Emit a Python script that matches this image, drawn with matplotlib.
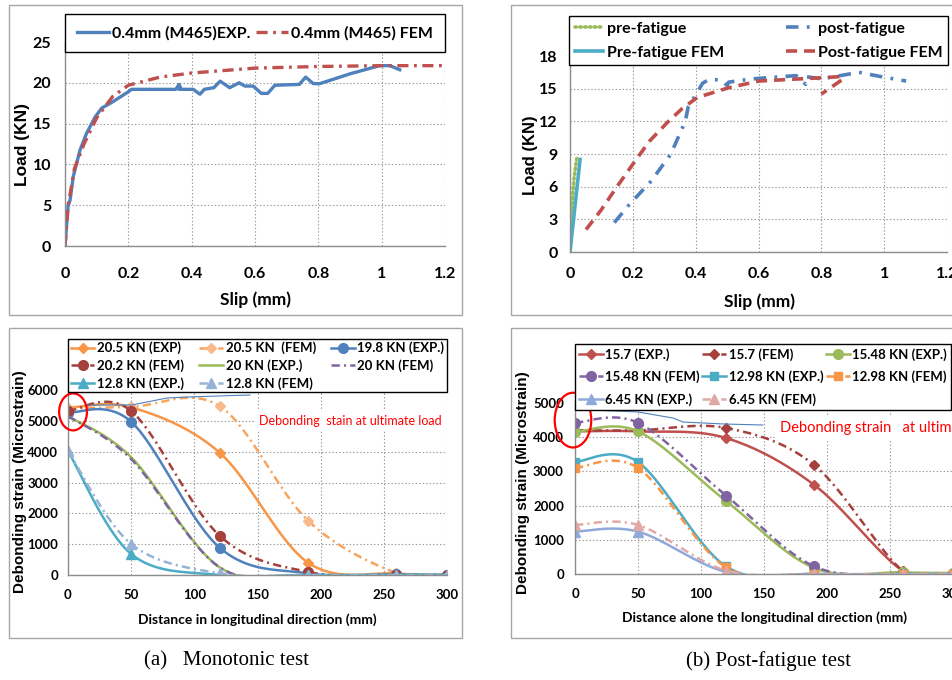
import numpy as np
import matplotlib
matplotlib.use("Agg")
import matplotlib.pyplot as plt
from matplotlib.patches import Ellipse, Rectangle
from matplotlib.lines import Line2D
from matplotlib.ticker import FuncFormatter

# ---------------- data ----------------
# (a) top: load-slip, monotonic
tl_exp_slip = [0, 0.01, 0.016, 0.026, 0.047, 0.068, 0.095, 0.116, 0.152, 0.2, 0.21, 0.35, 0.355, 0.36, 0.365,
               0.36, 0.405, 0.426, 0.44, 0.47, 0.49, 0.52, 0.55, 0.568, 0.594, 0.62, 0.64, 0.663, 0.74, 0.76,
               0.784, 0.805, 0.9, 0.994, 1.026, 1.057]
tl_exp_load = [0, 5, 5.6, 8.5, 11.7, 13.8, 15.8, 16.9, 17.7, 18.9, 19.2, 19.2, 19.5, 19.8, 19.4,
               19.2, 19.2, 18.6, 19.2, 19.4, 20.2, 19.4, 20.0, 19.6, 19.6, 18.7, 18.7, 19.7, 19.8, 20.7,
               19.9, 19.9, 21.1, 22.1, 22.1, 21.6]
tl_fem_slip = [0, 0.01, 0.03, 0.06, 0.1, 0.15, 0.2, 0.3, 0.4, 0.5, 0.6, 0.7, 0.8, 1.0, 1.2]
tl_fem_load = [0, 5, 9.5, 12.5, 15.7, 18.3, 19.7, 20.7, 21.2, 21.5, 21.8, 21.9, 22.0, 22.1, 22.1]

# (b) top: load-slip, post-fatigue
pre_slip = [0, 0.004, 0.008, 0.013, 0.017, 0.02, 0.022]
pre_load = [0, 2.5, 5.0, 6.8, 7.7, 8.3, 8.7]
pre_fem_slip = [0, 0.032]
pre_fem_load = [0, 8.5]
post_slip = [0.141, 0.187, 0.258, 0.321, 0.367, 0.376, 0.406, 0.422, 0.443, 0.48, 0.5, 0.505, 0.58, 0.72,
             0.75, 0.752, 0.8, 0.92, 1.0, 1.05, 1.07]
post_load = [2.7, 4.3, 6.5, 9.0, 12.0, 13.3, 14.7, 15.5, 15.85, 15.8, 15.3, 15.6, 15.9, 16.2,
             15.4, 16.1, 15.9, 16.5, 16.05, 15.8, 15.7]
post_fem_slip = [0.051, 0.099, 0.146, 0.197, 0.252, 0.31, 0.358, 0.406, 0.507, 0.602, 0.698, 0.8, 0.857, 0.87, 0.8]
post_fem_load = [2.06, 3.85, 5.85, 7.94, 10.15, 11.9, 13.2, 14.2, 15.1, 15.7, 15.85, 16.0, 16.1, 15.9, 14.5]

# (a) bottom: debonding strain, monotonic
bl_dist = [0, 50, 120, 190, 260, 300]
m205_exp = [5420, 5440, 3970, 400, 50, 0]
m205_fem = [5400, 5450, 5480, 1760, 60, 0]
m198_exp = [5270, 4970, 886, 54, 20, 0]
m202_fem = [5320, 5320, 1275, 100, 0, 0]
m20_exp = [5150, 3820, 250, 0, 0, 0]
m20_fem = [5150, 3760, 250, 0, 0, 0]
m128_exp = [4020, 680, 0, 0, 0, 0]
m128_fem = [4020, 1005, 54, 0, 0, 0]

# (b) bottom: debonding strain, post-fatigue
br_dist = [0, 50, 120, 190, 260, 300]
p157_exp = [4170, 4170, 3975, 2600, 97, 0]
p157_fem = [4200, 4200, 4270, 3180, 97, 0]
p1548_exp = [4150, 4170, 2130, 175, 50, 30]
p1548_fem = [4420, 4420, 2290, 220, 0, 0]
p1298_exp = [3275, 3275, 220, 0, 0, 0]
p1298_fem = [3100, 3100, 195, 0, 0, 0]
p645_exp = [1240, 1240, 58, 0, 0, 0]
p645_fem = [1434, 1434, 97, 0, 0, 0]

# annotation pointer lines (hand-drawn in the original)
bl_ptr_x = [15, 50.7, 78.4, 94.2, 144]
bl_ptr_y = [5514, 5514, 5741, 5773, 5838]
br_ptr_x = [12.7, 50, 77.8, 85.7, 118, 149]
br_ptr_y = [4795, 4737, 4561, 4444, 4386, 4357]

# ---------------- style ----------------
plt.rcParams['lines.scale_dashes'] = False
NARROW = ['Lato', 'DejaVu Sans']
ARIAL = ['Liberation Sans', 'DejaVu Sans']
SERIF = ['Liberation Serif', 'DejaVu Serif']

BLUE = '#4F81BD'; RED = '#C0504D'; GREEN = '#9BBB59'; PURPLE = '#8064A2'
AQUA = '#4BACC6'; ORANGE = '#F79646'
DASHDOT = (0, (6, 3, 1.5, 3))

W, H = 952, 680
fig = plt.figure(figsize=(W / 100, H / 100), dpi=100)


def ax_px(l, t, r, b):
    return fig.add_axes([l / W, 1 - b / H, (r - l) / W, (b - t) / H])


def fig_box(l, t, r, b):
    fig.patches.append(Rectangle((l / W, 1 - b / H), (r - l) / W, (b - t) / H, transform=fig.transFigure,
                                 fill=False, edgecolor='#A6A6A6', lw=1.0))


def T(px, py, s, **kw):
    fig.text(px / W, 1 - py / H, s, **kw)


def style_ax(ax, xlim, ylim, xticks, yticks, fs, xpad, ypad):
    ax.set_xlim(xlim)
    ax.set_ylim(ylim)
    ax.set_xticks(xticks)
    ax.set_yticks(yticks)
    ax.grid(True, color='#9A9A9A', lw=0.8, ls=(0, (1, 1.5)))
    ax.set_axisbelow(True)
    ax.patch.set_alpha(0)
    for s in ['top', 'right']:
        ax.spines[s].set_visible(False)
    for s in ['left', 'bottom']:
        ax.spines[s].set_color('#8C8C8C')
        ax.spines[s].set_linewidth(1.0)
    ax.tick_params(axis='x', length=0, pad=xpad, labelsize=fs)
    ax.tick_params(axis='y', length=0, pad=ypad, labelsize=fs)
    ax.xaxis.set_major_formatter(FuncFormatter(lambda v, p: '%g' % v))
    for lab in ax.get_xticklabels() + ax.get_yticklabels():
        lab.set_family(NARROW)
        lab.set_fontweight('bold')


def smooth(ax, x, y, n=40):
    P = ax.transData.transform(np.column_stack([x, y]))
    N = len(P)
    out = []
    t = np.linspace(0, 1, n)[:, None]
    for i in range(N - 1):
        p0 = P[i - 1] if i > 0 else P[i]
        p1 = P[i]
        p2 = P[i + 1]
        p3 = P[i + 2] if i + 2 < N else P[i + 1]
        c1 = p1 + (p2 - p0) / 6
        c2 = p2 - (p3 - p1) / 6
        seg = (1 - t) ** 3 * p1 + 3 * (1 - t) ** 2 * t * c1 + 3 * (1 - t) * t ** 2 * c2 + t ** 3 * p2
        out.append(seg if i == 0 else seg[1:])
    Q = ax.transData.inverted().transform(np.vstack(out))
    return Q[:, 0], Q[:, 1]


def legend(ax, handles, labels, l, t, r, ncol, fs, hl, lsp, bpad, htp=0.2):
    leg = ax.legend(handles, labels, loc='upper left', bbox_to_anchor=(l / W, 0, (r - l) / W, 1 - t / H),
                    bbox_transform=fig.transFigure, mode='expand', ncol=ncol, borderaxespad=0,
                    fancybox=False, framealpha=1, edgecolor='black', numpoints=1,
                    handlelength=hl, handletextpad=htp, labelspacing=lsp, borderpad=bpad,
                    prop={'family': NARROW, 'weight': 'bold', 'size': fs})
    leg.get_frame().set_linewidth(1.0)
    leg.set_zorder(10)
    return leg


# panel frames
fig_box(9, 5, 462, 315)
fig_box(511, 5, 960, 315)
fig_box(9, 328, 462, 638)
fig_box(511, 328, 960, 638)

# ---------------- (a) top ----------------
ax1 = ax_px(65, 42, 445, 246)
style_ax(ax1, (0, 1.2), (0, 25), [0, 0.2, 0.4, 0.6, 0.8, 1.0, 1.2], [0, 5, 10, 15, 20, 25], 11.5, 15, 10)
h1, = ax1.plot(tl_exp_slip, tl_exp_load, color=BLUE, lw=2.4, solid_joinstyle='round')
h2, = ax1.plot(tl_fem_slip, tl_fem_load, color=RED, lw=2.4, ls=(0, (8, 4, 2, 4)))
legend(ax1, [h1, h2], ['0.4mm (M465)EXP.', '0.4mm (M465) FEM'], 65, 14, 445, 2, 11.5, 2.0, 0.3, 0.75)
T(255, 300, 'Slip (mm)', family=NARROW, weight='bold', size=12.5, ha='center', va='center')
T(23, 144, 'Load (KN)', family=ARIAL, weight='bold', size=12.5, ha='center', va='center', rotation=90)

# ---------------- (b) top ----------------
ax2 = ax_px(570, 56, 947, 252)
style_ax(ax2, (0, 1.2), (0, 18), [0, 0.2, 0.4, 0.6, 0.8, 1.0, 1.2], [0, 3, 6, 9, 12, 15, 18], 11.5, 11, 9)
g1, = ax2.plot(pre_slip, pre_load, color=GREEN, lw=2.6, ls=(0, (1, 2.5)), dash_capstyle='round')
g2, = ax2.plot(pre_fem_slip, pre_fem_load, color=AQUA, lw=2.6)
g3, = ax2.plot(post_slip, post_load, color=BLUE, lw=2.6, ls=(0, (9, 6, 2, 6)))
g4, = ax2.plot(post_fem_slip, post_fem_load, color=RED, lw=2.6, ls=(0, (8, 5)))
legend(ax2, [g1, g2, g3, g4], ['pre-fatigue', 'Pre-fatigue FEM', 'post-fatigue', 'Post-fatigue FEM'],
       569, 16, 948, 2, 11.5, 1.8, 0.6, 0.35)
T(759, 302, 'Slip (mm)', family=NARROW, weight='bold', size=12.5, ha='center', va='center')
T(530, 155, 'Load (KN)', family=ARIAL, weight='bold', size=12, ha='center', va='center', rotation=90)

# ---------------- (a) bottom ----------------
ax3 = ax_px(68, 390, 447, 575)
style_ax(ax3, (0, 300), (0, 6000), [0, 50, 100, 150, 200, 250, 300], [0, 1000, 2000, 3000, 4000, 5000, 6000],
         9.5, 10, 7)
bl_specs = [
    (m205_exp, '20.5 KN (EXP)', ORANGE, '-', 'D', ORANGE, 5.5),
    (m205_fem, '20.5 KN  (FEM)', '#F9A45C', DASHDOT, 'D', '#FAB98A', 5.5),
    (m198_exp, '19.8 KN (EXP.)', BLUE, '-', 'o', BLUE, 7),
    (m202_fem, '20.2 KN (FEM)', '#A5403C', DASHDOT, 'o', '#A5403C', 7),
    (m20_exp, '20 KN (EXP.)', GREEN, '-', None, GREEN, 0),
    (m20_fem, '20 KN (FEM)', PURPLE, DASHDOT, None, PURPLE, 0),
    (m128_exp, '12.8 KN (EXP.)', AQUA, '-', '^', AQUA, 7),
    (m128_fem, '12.8 KN (FEM)', '#95B3D7', DASHDOT, '^', '#95B3D7', 7),
]
bl_handles = []
for vals, lab, c, ls, mk, mc, ms in bl_specs:
    sx, sy = smooth(ax3, bl_dist, vals)
    ax3.plot(sx, sy, color=c, lw=1.8, ls=ls)
    if mk:
        ax3.plot(bl_dist, vals, ls='none', marker=mk, ms=ms, color=mc, mec=mc)
    bl_handles.append(Line2D([], [], color=c, lw=1.8, ls=ls, marker=mk, ms=ms, mfc=mc, mec=mc))
order = [0, 3, 6, 1, 4, 7, 2, 5]
legend(ax3, [bl_handles[i] for i in order], [bl_specs[i][1] for i in order], 68, 339, 447, 3, 9.5, 1.8,
       0.38, 0.2)
ax3.plot(bl_ptr_x, bl_ptr_y, color=BLUE, lw=0.8)
ax3.add_patch(Ellipse((4, 5290), 22, 1200, fill=False, edgecolor='#FF0000', lw=1.6, clip_on=False, zorder=5))
ax3.text(151, 5000, 'Debonding  stain at ultimate load', color='#FF0000', family=NARROW, size=9,
         va='center', ha='left', bbox=dict(facecolor='white', edgecolor='none', pad=3), zorder=4)
T(257, 620, 'Distance in longitudinal direction (mm)', family=NARROW, weight='bold', size=10,
  ha='center', va='center')
T(20, 482, 'Debonding strain (Microstrain)', family=ARIAL, weight='bold', size=11, ha='center',
  va='center', rotation=90)

# ---------------- (b) bottom ----------------
ax4 = ax_px(575, 403, 953, 574)
style_ax(ax4, (0, 300), (0, 5000), [0, 50, 100, 150, 200, 250, 300], [0, 1000, 2000, 3000, 4000, 5000],
         9.5, 10, 8)
br_specs = [
    (p157_exp, '15.7 (EXP.)', RED, '-', 'D', RED, 5.5),
    (p157_fem, '15.7 (FEM)', '#A5403C', DASHDOT, 'D', '#A5403C', 5.5),
    (p1548_exp, '15.48 KN (EXP.)', GREEN, '-', 'o', GREEN, 7),
    (p1548_fem, '15.48 KN (FEM)', PURPLE, DASHDOT, 'o', PURPLE, 7),
    (p1298_exp, '12.98 KN (EXP.)', AQUA, '-', 's', AQUA, 6),
    (p1298_fem, '12.98 KN (FEM)', ORANGE, DASHDOT, 's', ORANGE, 6),
    (p645_exp, '6.45 KN (EXP.)', '#8EAADB', '-', '^', '#8EAADB', 7),
    (p645_fem, '6.45 KN (FEM)', '#E0A8A6', DASHDOT, '^', '#E0A8A6', 7),
]
br_handles = []
for vals, lab, c, ls, mk, mc, ms in br_specs:
    sx, sy = smooth(ax4, br_dist, vals)
    ax4.plot(sx, sy, color=c, lw=1.8, ls=ls)
    ax4.plot(br_dist, vals, ls='none', marker=mk, ms=ms, color=mc, mec=mc)
    br_handles.append(Line2D([], [], color=c, lw=1.8, ls=ls, marker=mk, ms=ms, mfc=mc, mec=mc))
legend(ax4, [br_handles[i] for i in order], [br_specs[i][1] for i in order], 575, 344, 951, 3, 9.5, 1.8,
       0.75, 0.3)
ax4.plot(br_ptr_x, br_ptr_y, color=BLUE, lw=0.8, clip_on=False)
ax4.add_patch(Ellipse((-1.6, 4500), 29, 1600, fill=False, edgecolor='#FF0000', lw=1.6, clip_on=False, zorder=5))
ax4.text(163, 4270, 'Debonding strain   at ultimate load', color='#FF0000', family=NARROW, size=10.5,
         va='center', ha='left', bbox=dict(facecolor='white', edgecolor='none', pad=4), zorder=4)
T(765, 618, 'Distance alone the longitudinal direction (mm)', family=NARROW, weight='bold', size=10,
  ha='center', va='center')
T(523, 483, 'Debonding strain (Microstrain)', family=ARIAL, weight='bold', size=11, ha='center',
  va='center', rotation=90)

# captions
T(226, 661, '(a)   Monotonic test', family=SERIF, size=15, ha='center', va='center')
T(769, 661, '(b) Post-fatigue test', family=SERIF, size=15, ha='center', va='center')

fig.savefig('out.png', dpi=100)
